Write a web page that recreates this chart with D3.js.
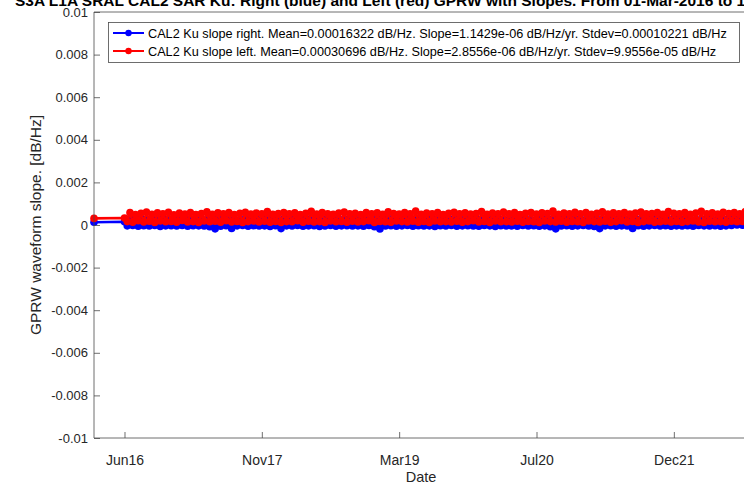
<!DOCTYPE html>
<html>
<head>
<meta charset="utf-8">
<script src="https://cdn.jsdelivr.net/npm/d3@7"></script>
<style>
  body { margin: 0; background: #fff; }
  svg { display: block; font-family: "Liberation Sans", Arial, sans-serif; }
</style>
</head>
<body>
<svg id="chart" width="744" height="487"></svg>
<script>
// ---- data: slope envelope samples, in units of 1e-4 dB/Hz ----
const firstAcquisition = "2016-03-01";
const firstRight = 1.3;
const firstLeft = 3.1;
const sampleStart = "2016-06-20";
const sampleStepDays = 10;

const rightSlope = [
  1.5,-0.4,3.0,-0.2,2.6,-0.6,2.9,-0.3,2.7,-0.5,3.1,-0.2,2.5,-0.7,2.9,-0.4,2.6,-0.3,3.0,-0.5,
  2.7,-0.2,2.9,-0.6,2.5,-0.3,3.1,-0.4,2.8,-0.5,2.6,-0.8,2.9,-1.8,2.7,-0.6,3.0,-0.3,2.6,-1.6,
  2.8,-0.4,2.5,-0.2,3.0,-0.6,2.7,-0.3,2.9,-0.5,2.6,-0.4,3.1,-0.7,2.8,-0.3,2.5,-1.7,2.9,-0.4,
  2.7,-0.5,3.0,-0.2,2.6,-0.6,2.8,-0.4,3.1,-0.3,2.5,-0.7,2.9,-0.5,2.7,-0.2,3.0,-0.6,2.6,-0.4,
  2.8,-0.3,2.9,-0.5,2.6,-0.4,3.0,-0.6,2.7,-0.2,2.5,-0.8,2.9,-1.9,2.8,-0.5,3.1,-0.3,2.6,-0.6,
  2.7,-0.4,3.0,-0.2,2.8,-0.6,2.5,-0.3,2.9,-0.5,2.6,-0.4,3.1,-0.7,2.7,-0.3,2.9,-0.5,2.6,-0.2,
  3.0,-0.6,2.7,-0.4,2.8,-0.3,2.5,-0.5,3.1,-0.6,2.6,-0.2,2.9,-0.4,2.7,-0.7,3.0,-0.3,2.8,-0.5,
  2.6,-0.4,2.9,-0.6,2.7,-0.2,3.0,-0.5,2.5,-0.3,2.8,-0.6,3.1,-0.4,2.6,-0.8,2.9,-1.8,2.7,-0.5,
  3.0,-0.3,2.6,-0.6,2.8,-0.4,2.9,-0.2,2.5,-0.5,3.1,-0.7,2.7,-1.7,2.8,-0.4,3.0,-0.3,2.6,-0.6,
  2.9,-0.4,2.7,-0.5,2.6,-1.6,3.0,-0.3,2.8,-0.6,2.5,-0.4,2.9,-0.2,3.1,-0.5,2.7,-0.3,2.6,-0.6,
  2.8,-0.4,3.0,-0.5,2.7,-0.3,2.9,-0.6,2.5,-0.2,2.8,-0.4,3.1,-0.5,2.6,-0.3,2.9,-0.6,2.7,-0.4,
  3.0,-0.2,2.8,0.0,2.6,-0.1,2.9,0.1
];

const leftSlope = [
  3.3,1.6,5.8,1.3,4.9,2.0,5.5,1.4,6.1,1.8,5.0,1.2,5.7,1.9,5.3,1.5,6.0,1.7,4.8,1.3,
  5.6,2.1,5.1,1.4,5.9,1.6,4.9,1.2,5.4,1.9,6.2,1.5,5.0,1.8,5.7,1.3,5.2,2.0,5.8,1.4,
  4.9,1.7,5.5,1.2,6.0,1.6,5.1,1.9,5.6,1.4,5.3,1.8,6.3,1.3,5.0,1.7,5.4,1.2,5.9,1.6,
  5.2,1.5,5.7,2.0,4.9,1.3,5.5,1.8,6.4,1.4,5.1,1.6,5.8,1.2,5.3,1.9,5.0,1.5,5.6,1.7,
  6.1,1.3,5.2,1.8,5.5,1.4,4.9,1.6,5.8,2.0,5.3,1.2,5.7,1.7,5.0,1.5,6.2,1.3,5.4,1.9,
  5.1,1.6,5.9,1.4,5.2,1.8,6.5,1.3,5.0,1.7,5.6,1.2,5.3,1.9,5.8,1.5,4.9,1.6,5.5,1.4,
  6.0,1.8,5.2,1.3,5.7,1.6,5.1,2.0,5.4,1.4,6.3,1.7,5.0,1.2,5.6,1.9,5.3,1.5,6.1,1.6,
  5.2,1.4,5.8,1.8,4.9,1.3,5.5,1.7,5.9,1.5,5.1,1.2,5.7,1.9,5.4,1.6,6.6,1.4,5.0,1.8,
  5.6,1.3,5.2,1.7,6.0,1.5,5.3,1.2,5.8,1.9,5.0,1.6,5.5,1.4,6.2,1.8,5.1,1.3,5.7,1.6,
  5.3,2.0,5.9,1.4,5.1,1.7,5.6,1.2,6.1,1.6,5.2,1.9,5.4,1.3,5.8,1.5,5.0,1.8,6.3,1.4,
  5.5,1.7,5.2,1.3,5.9,1.6,5.0,1.9,5.6,1.4,6.4,1.2,5.3,1.8,5.7,1.5,5.1,1.6,6.0,1.3,
  5.4,1.8,5.8,1.5,5.2,1.7,6.2,1.4
];
const valueUnit = 1e-4;

const xTickDates = ["2016-06-20", "2017-11-02", "2019-03-17", "2020-07-29", "2021-12-11"];
const xTickLabels = ["Jun16", "Nov17", "Mar19", "Jul20", "Dec21"];
const yTicks = [0.01, 0.008, 0.006, 0.004, 0.002, 0, -0.002, -0.004, -0.006, -0.008, -0.01];
const yTickLabels = ["0.01", "0.008", "0.006", "0.004", "0.002", "0", "-0.002", "-0.004", "-0.006", "-0.008", "-0.01"];

const seriesNames = [
  "CAL2 Ku slope right. Mean=0.00016322 dB/Hz. Slope=1.1429e-06 dB/Hz/yr. Stdev=0.00010221 dB/Hz",
  "CAL2 Ku slope left. Mean=0.00030696 dB/Hz. Slope=2.8556e-06 dB/Hz/yr. Stdev=9.9556e-05 dB/Hz"
];
const seriesColors = ["#0000ff", "#ff0000"];
const titleText = "S3A L1A SRAL CAL2 SAR Ku: Right (blue) and Left (red) GPRW with Slopes. From 01-Mar-2016 to 10-Sep-2022";

// ---- build series ----
const parse = d3.utcParse("%Y-%m-%d");
const start = parse(sampleStart);
function buildSeries(first, values) {
  const pts = [{ date: parse(firstAcquisition), value: first * valueUnit }];
  values.forEach((v, i) => pts.push({ date: d3.utcDay.offset(start, i * sampleStepDays), value: v * valueUnit }));
  return pts;
}
const series = [buildSeries(firstRight, rightSlope), buildSeries(firstLeft, leftSlope)];

// ---- layout ----
const svg = d3.select("#chart");
const plot = { left: 94, right: 748, top: 12, bottom: 438 };
const lastDate = series[0][series[0].length - 1].date;

const x = d3.scaleUtc().domain([parse(firstAcquisition), lastDate]).range([plot.left, plot.right]);
const y = d3.scaleLinear().domain([-0.01, 0.01]).range([plot.bottom, plot.top]);

const axisColor = "#4a4a4a";
const textColor = "#262626";

svg.append("rect").attr("width", 744).attr("height", 487).attr("fill", "#fff");

// title (wider than the window, so it runs past both edges)
svg.append("text")
  .attr("x", (plot.left + plot.right) / 2).attr("y", 5.5)
  .attr("text-anchor", "middle")
  .attr("font-size", 15.5).attr("font-weight", "bold").attr("fill", "#000")
  .text(titleText);

// clip for the data
svg.append("clipPath").attr("id", "plotClip")
  .append("rect").attr("x", plot.left - 10).attr("y", plot.top).attr("width", plot.right - plot.left + 20).attr("height", plot.bottom - plot.top);

const dataG = svg.append("g").attr("clip-path", "url(#plotClip)");
const line = d3.line().x(d => x(d.date)).y(d => y(d.value));

series.forEach((s, i) => {
  const g = dataG.append("g");
  g.append("path").datum(s).attr("d", line)
    .attr("fill", "none").attr("stroke", seriesColors[i]).attr("stroke-width", 2.6).attr("stroke-linejoin", "round");
  g.selectAll("circle").data(s).join("circle")
    .attr("cx", d => x(d.date)).attr("cy", d => y(d.value)).attr("r", 3.8)
    .attr("fill", seriesColors[i]);
});

// axes (inward ticks, box on)
const yAxis = d3.axisLeft(y).tickValues(yTicks).tickFormat((d, i) => yTickLabels[i]).tickSize(-6).tickPadding(6);
const yG = svg.append("g").attr("transform", `translate(${plot.left},0)`).call(yAxis);

const xAxis = d3.axisBottom(x).tickValues(xTickDates.map(parse)).tickFormat((d, i) => xTickLabels[i]).tickSize(-6).tickPadding(17);
const xG = svg.append("g").attr("transform", `translate(0,${plot.bottom})`).call(xAxis);

[yG, xG].forEach(g => {
  g.select(".domain").remove();
  g.selectAll(".tick line").attr("stroke", axisColor).attr("stroke-width", 0.8);
  g.selectAll(".tick text").attr("fill", textColor).attr("font-family", "Liberation Sans, Arial, sans-serif");
});
yG.selectAll(".tick text").attr("font-size", 13);
xG.selectAll(".tick text").attr("font-size", 14);

// box
svg.append("path")
  .attr("d", `M${plot.left},${plot.top}H${plot.right}V${plot.bottom}H${plot.left}Z`)
  .attr("fill", "none").attr("stroke", axisColor).attr("stroke-width", 0.8);

// axis labels
svg.append("text").attr("x", (plot.left + plot.right) / 2).attr("y", 482)
  .attr("text-anchor", "middle").attr("font-size", 14.5).attr("fill", textColor).text("Date");
svg.append("text").attr("transform", `translate(41,${(plot.top + plot.bottom) / 2}) rotate(-90)`)
  .attr("text-anchor", "middle").attr("font-size", 15.5).attr("fill", textColor).text("GPRW waveform slope. [dB/Hz]");

// legend
const legend = svg.append("g");
legend.append("rect").attr("x", 108.5).attr("y", 22.5).attr("width", 631).attr("height", 40)
  .attr("fill", "#fff").attr("stroke", axisColor).attr("stroke-width", 0.8);
seriesNames.forEach((name, i) => {
  const cy = 33 + i * 18;
  legend.append("line").attr("x1", 113).attr("x2", 144).attr("y1", cy).attr("y2", cy)
    .attr("stroke", seriesColors[i]).attr("stroke-width", 2);
  legend.append("circle").attr("cx", 128.5).attr("cy", cy).attr("r", 3.2).attr("fill", seriesColors[i]);
  legend.append("text").attr("x", 148).attr("y", cy + 4.5).attr("font-size", 12.7).attr("fill", "#000").text(name);
});
</script>
</body>
</html>
